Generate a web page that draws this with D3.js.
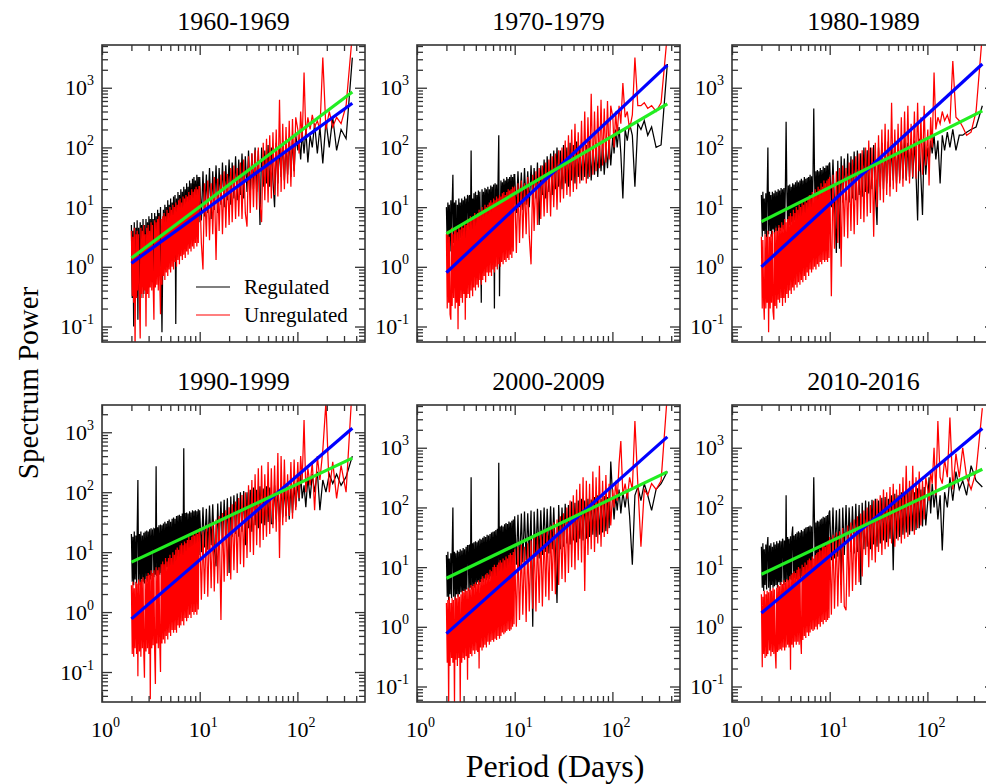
<!DOCTYPE html>
<html>
<head>
<meta charset="utf-8">
<script src="https://cdn.jsdelivr.net/npm/d3@7"></script>
<style>
  html, body { margin: 0; padding: 0; background: #fff; }
  text { font-family: "Liberation Serif", "Times New Roman", serif; fill: #000; }
</style>
</head>
<body>
<div id="chart"></div>
<script>
// period (days) of every spectrum point, shared by all panels
const periods = [
  2.00, 2.04, 2.07, 2.11, 2.14, 2.18, 2.22, 2.26, 2.29, 2.33,
  2.37, 2.42, 2.46, 2.50, 2.54, 2.59, 2.63, 2.68, 2.72, 2.77,
  2.82, 2.87, 2.92, 2.97, 3.02, 3.07, 3.12, 3.18, 3.23, 3.29,
  3.34, 3.40, 3.46, 3.52, 3.58, 3.64, 3.71, 3.77, 3.83, 3.90,
  3.97, 4.04, 4.11, 4.18, 4.25, 4.32, 4.40, 4.47, 4.55, 4.63,
  4.71, 4.79, 4.87, 4.96, 5.04, 5.13, 5.22, 5.31, 5.40, 5.50,
  5.59, 5.69, 5.79, 5.89, 5.99, 6.09, 6.20, 6.30, 6.41, 6.52,
  6.64, 6.75, 6.87, 6.99, 7.11, 7.23, 7.35, 7.48, 7.61, 7.74,
  7.88, 8.01, 8.15, 8.29, 8.44, 8.58, 8.73, 8.88, 9.03, 9.19,
  9.35, 9.51, 9.67, 9.84,
  10.0, 10.4, 10.8, 11.2, 11.7, 12.1, 12.6, 13.1, 13.6, 14.1,
  14.7, 15.3, 15.8, 16.5, 17.1, 17.8, 18.5, 19.2, 20.0, 20.8,
  21.5, 22.4, 23.3, 24.2, 25.1, 26.1, 27.1, 28.2, 29.3, 30.5,
  31.6, 32.9, 34.2, 35.5, 36.9, 38.3, 39.8, 41.4, 43.0, 44.7,
  46.4, 48.3, 50.1, 52.1, 54.1, 56.2, 58.4, 60.7, 63.1, 65.6,
  68.1, 70.8, 73.6, 76.5, 79.4, 82.5, 85.8, 89.1, 92.6, 96.2,
  101, 104, 108, 112, 117, 122, 128, 135, 142, 150,
  160, 170, 182, 196, 212, 230, 252, 280, 315, 365
];

const decades = ['1960-1969', '1970-1979', '1980-1989', '1990-1999', '2000-2009', '2010-2016'];

const reg1960 = [
  5, 0.3, 4, 0.1, 5.6, 0.4, 4.5, 0.32, 6, 0.13,
  4.5, 0.4, 5.6, 0.3, 5, 0.5, 6.3, 0.35, 5, 0.45,
  6.3, 0.4, 5.6, 0.6, 7, 0.5, 6.3, 0.7, 8, 0.55,
  6.3, 0.8, 8, 0.6, 7, 0.9, 9, 0.7, 8, 1,
  10, 0.8, 0.08, 1.1, 9, 1.3, 11, 1, 10, 1.4,
  13, 1.1, 11, 1.5, 14, 1.3, 12, 1.8, 15, 1.5,
  16, 0.11, 14, 2, 18, 1.8, 16, 2.5, 20, 2.2,
  18, 2.8, 22, 2.5, 20, 3.2, 25, 2.8, 22, 3.5,
  28, 3.2, 25, 4, 30, 3.5, 32, 4.5, 28, 5,
  35, 4.5, 32, 5.6,
  32, 6, 40, 7, 35, 8, 45, 6.3, 40, 9,
  50, 8, 45, 11, 56, 10, 50, 13, 63, 11,
  56, 14, 71, 13, 63, 16, 79, 14, 71, 18,
  89, 16, 79, 20, 100, 18, 89, 5, 100, 22,
  89, 25, 110, 22, 100, 28, 10, 120, 25, 110,
  32, 130, 28, 120, 35, 150, 32, 140, 40, 160,
  89, 140, 63, 180, 79, 200, 56, 160, 100, 250,
  79, 220, 54, 280, 100, 320, 89, 200, 140, 3200
];
const unreg1960 = [
  4, 0.32, 3.2, 0.25, 4.5, 0.04, 3.5, 0.3, 4, 0.4,
  3.5, 0.25, 0.063, 4.5, 0.35, 4, 0.3, 5, 0.4, 3.5,
  0.1, 4.5, 0.35, 5, 0.3, 4, 0.45, 5.6, 0.4, 5,
  0.5, 0.13, 6, 0.45, 5.6, 0.5, 6.3, 0.4, 7, 0.6,
  0.16, 6.3, 0.5, 7, 0.7, 8, 0.6, 7, 0.8, 9,
  0.7, 8, 0.9, 10, 0.8, 9, 1, 11, 0.9, 10,
  1.2, 12, 1, 11, 1.3, 13, 1.1, 14, 1.5, 12,
  1.3, 15, 1.6, 14, 1.4, 16, 1.8, 15, 1.6, 18,
  2, 16, 1.8, 20, 2.2, 18, 2, 20, 2.5, 22,
  2.2, 20, 2.5, 22,
  22, 2.5, 0.9, 25, 3.2, 28, 2.8, 25, 3.5, 32,
  1.3, 30, 4, 35, 3.5, 40, 4.5, 36, 5, 45,
  5.6, 50, 6.3, 45, 7, 56, 6.3, 63, 8, 4.7,
  71, 8, 80, 10, 90, 9, 100, 11, 5.6, 120,
  13, 140, 12, 160, 14, 180, 16, 200, 15, 630,
  18, 250, 20, 220, 25, 280, 22, 300, 32, 320,
  200, 79, 400, 130, 1800, 160, 320, 200, 350, 220,
  280, 200, 3200, 200, 400, 220, 320, 250, 500, 7900
];

const reg1970 = [
  10, 2, 12, 2.5, 11, 1.8, 13, 2.2, 11, 35,
  2.5, 12, 2, 13, 0.28, 11, 2.5, 14, 2.2, 12,
  3, 14, 2.5, 13, 3.2, 15, 2.8, 14, 3, 16,
  15, 3.2, 16, 2.8, 89, 3.5, 14, 3.2, 17, 3,
  18, 3.5, 16, 4, 19, 3.5, 18, 4, 0.25, 20,
  4, 18, 4.5, 21, 4, 20, 5, 22, 4.5, 20,
  5, 23, 4.5, 22, 5.6, 24, 0.2, 25, 5, 24,
  5.6, 26, 160, 0.32, 6, 28, 5.6, 26, 6.3, 30,
  6, 28, 7, 32, 6.3, 30, 8, 32, 7, 35,
  6.3, 32, 7, 35,
  35, 8, 40, 10, 38, 9, 45, 11, 40, 10,
  50, 12, 45, 14, 56, 5, 50, 16, 63, 14,
  71, 18, 79, 16, 89, 20, 100, 22, 89, 20,
  110, 25, 100, 22, 120, 28, 110, 25, 125, 32,
  100, 28, 120, 32, 110, 30, 130, 28, 100, 35,
  120, 32, 110, 40, 130, 35, 100, 45, 140, 50,
  160, 79, 200, 100, 220, 79, 14, 200, 130, 250,
  160, 22, 250, 200, 280, 160, 220, 100, 110, 2500
];
const unreg1970 = [
  3.5, 0.2, 4, 0.25, 3.2, 0.16, 0.13, 4.5, 0.22, 3.5,
  0.3, 4, 0.2, 4.5, 0.25, 3.8, 0.09, 5, 0.22, 4.2,
  0.3, 5, 0.25, 4.5, 0.35, 5.6, 0.13, 5, 0.3, 6.3,
  0.35, 5.6, 0.3, 7, 0.4, 6.3, 0.32, 7, 0.45, 8,
  0.4, 7, 0.5, 8, 0.45, 9, 0.6, 8, 0.5, 10,
  0.6, 9, 0.7, 11, 0.55, 10, 0.8, 11, 0.7, 12,
  0.8, 13, 0.7, 12, 0.9, 14, 0.8, 13, 1, 15,
  0.9, 14, 1.1, 16, 1, 15, 1.2, 17, 1.1, 18,
  1.3, 16, 1.2, 18, 1.4, 20, 1.3, 19, 1.6, 20,
  1.4, 22, 1.8, 20,
  22, 1.7, 25, 2.5, 28, 3, 25, 3.5, 32, 3.2,
  1.1, 35, 4, 40, 5, 45, 6.3, 50, 7, 56,
  8, 63, 7, 71, 10, 79, 9, 90, 12, 100,
  14, 130, 16, 160, 15, 200, 18, 250, 20, 180,
  25, 280, 28, 400, 25, 320, 32, 790, 35, 400,
  40, 500, 45, 630, 50, 450, 56, 600, 63, 500,
  320, 100, 400, 160, 500, 250, 1200, 320, 400, 200,
  350, 3200, 500, 500, 560, 450, 500, 400, 560, 7900
];

const reg1980 = [
  16, 3.2, 18, 4, 14, 3.5, 17, 3, 16, 100,
  3.5, 18, 4, 16, 3.2, 18, 4.2, 17, 3.5, 19,
  4, 18, 3.8, 20, 4.5, 19, 4, 21, 4.5, 20,
  4.2, 21, 4.5, 22, 270, 20, 4.8, 23, 5, 24,
  5, 22, 5.6, 25, 5, 24, 6, 26, 5.6, 28,
  5.6, 26, 6.3, 28, 6, 30, 6.3, 28, 7, 32,
  6.3, 30, 7, 31, 6.5, 32, 7, 35, 7.5, 33,
  7, 36, 450, 38, 7.5, 40, 8, 42, 7.5, 40,
  8.5, 45, 8, 42, 9, 48, 8.5, 45, 9, 50,
  8.5, 50, 9, 52,
  56, 10, 63, 11, 1.7, 60, 2, 71, 12, 65,
  13, 79, 12, 71, 14, 85, 13, 89, 16, 80,
  15, 100, 18, 90, 17, 100, 20, 110, 18, 5,
  100, 22, 120, 20, 110, 25, 125, 22, 110, 28,
  130, 25, 120, 28, 130, 30, 140, 28, 120, 32,
  140, 30, 130, 35, 6, 140, 32, 7.4, 130, 35,
  100, 56, 130, 79, 160, 63, 130, 25, 160, 89,
  180, 100, 200, 89, 160, 160, 180, 200, 220, 500
];
const unreg1980 = [
  3.2, 0.2, 2.8, 0.25, 0.13, 3.5, 0.2, 3.2, 0.25, 4,
  0.08, 3.2, 0.2, 3.5, 0.25, 4, 0.18, 0.13, 3.8, 0.22,
  4.5, 0.2, 4, 0.28, 5, 0.25, 4.5, 0.3, 5.6, 0.22,
  5, 0.3, 6.3, 0.25, 5.6, 0.35, 6.3, 0.3, 7, 0.4,
  8, 0.35, 7, 0.45, 9, 0.4, 8, 0.5, 10, 0.45,
  9, 0.55, 11, 0.5, 10, 0.6, 12, 0.55, 11, 0.7,
  13, 0.6, 12, 0.8, 14, 0.7, 16, 0.9, 14, 0.8,
  18, 0.9, 16, 1, 20, 0.9, 18, 1.1, 22, 1,
  20, 1.2, 25, 1.1, 22, 1.3, 28, 1.2, 25, 1.3,
  28, 1.2, 30, 1.4,
  32, 0.32, 35, 2, 40, 2.5, 45, 1, 50, 3.2,
  45, 3, 56, 4, 63, 3.5, 71, 5, 79, 6.3,
  90, 5.6, 100, 7, 130, 8, 100, 3.2, 120, 10,
  160, 13, 200, 12, 250, 16, 200, 15, 560, 20,
  200, 18, 250, 25, 320, 22, 400, 28, 500, 25,
  250, 32, 400, 30, 560, 40, 320, 35, 500, 50,
  200, 23, 320, 100, 1800, 200, 320, 250, 400, 280,
  350, 250, 2800, 320, 280, 220, 160, 180, 400, 7900
];

const reg1990 = [
  20, 3.2, 18, 2.8, 22, 3.5, 19, 3, 21, 160,
  3.2, 20, 2.8, 22, 3.5, 19, 3.2, 21, 3, 22,
  3.5, 23, 3.2, 22, 4, 24, 3.5, 25, 4, 23,
  24, 3.8, 25, 4.2, 270, 4, 26, 4.5, 28, 4.2,
  29, 4.5, 28, 5, 30, 4.5, 32, 5, 30, 5.6,
  33, 5, 35, 5.6, 32, 6, 36, 5.6, 38, 6,
  36, 6.3, 40, 5.8, 41, 6.3, 42, 6, 40, 6.5,
  44, 6.3, 540, 7, 45, 6.5, 46, 7, 44, 7.5,
  48, 7, 46, 8, 50, 7.5, 48, 8, 50, 8.5,
  48, 8, 52, 9,
  50, 10, 56, 12, 53, 11, 60, 13, 63, 12,
  5.8, 65, 14, 70, 13, 75, 16, 79, 4.5, 85,
  18, 89, 20, 95, 18, 100, 22, 105, 13, 100,
  25, 110, 22, 120, 28, 110, 25, 125, 30, 115,
  28, 125, 32, 120, 30, 30, 130, 35, 120, 32,
  130, 38, 120, 40, 135, 35, 125, 45, 140, 56,
  160, 71, 200, 79, 130, 56, 180, 79, 200, 100,
  220, 50, 160, 100, 200, 140, 200, 130, 180, 400
];
const unreg1990 = [
  2.8, 0.2, 3.2, 0.18, 2.5, 0.25, 3.2, 0.2, 3, 0.085,
  3.5, 0.22, 3.2, 0.18, 3.5, 0.25, 3.8, 0.2, 0.08, 3.5,
  0.22, 4, 0.25, 4.5, 0.2, 4.2, 0.035, 5, 0.25, 4.5,
  0.28, 5, 0.22, 0.063, 5.6, 0.3, 5, 0.25, 5.6, 0.3,
  0.1, 6.3, 0.3, 7, 0.35, 6.3, 0.3, 8, 0.4, 7,
  0.35, 8, 0.45, 9, 0.4, 8, 0.5, 10, 0.45, 9,
  0.5, 11, 0.45, 12, 0.6, 11, 0.55, 13, 0.6, 14,
  0.7, 13, 0.6, 15, 0.8, 14, 0.7, 16, 0.8, 18,
  0.9, 16, 0.8, 18, 1, 20, 0.9, 19, 1, 22,
  0.9, 20, 1.1, 22,
  25, 1.6, 22, 2, 28, 1.8, 30, 2.5, 32, 2.2,
  35, 3, 40, 0.74, 45, 3.2, 50, 4, 56, 3.5,
  63, 5, 70, 4.5, 80, 6.3, 90, 5.6, 100, 8,
  130, 10, 160, 9, 200, 13, 250, 12, 280, 16,
  200, 18, 320, 20, 250, 25, 280, 22, 450, 8,
  400, 28, 350, 32, 200, 40, 320, 36, 350, 50,
  320, 79, 400, 160, 1600, 100, 250, 130, 320, 50,
  400, 160, 500, 3200, 100, 320, 79, 280, 100, 6300
];

const reg2000 = [
  16, 3.2, 18, 2.8, 14, 3.5, 17, 3, 16, 100,
  3.2, 18, 2.8, 17, 3.5, 19, 3.2, 18, 3.5, 20,
  3.8, 19, 3.5, 21, 4, 20, 3.8, 22, 4.2, 23,
  23, 4, 24, 4.5, 320, 4.2, 25, 4.8, 26, 4.5,
  27, 5, 26, 5.6, 28, 5, 30, 5.6, 29, 6,
  31, 5.6, 33, 6.3, 32, 6, 35, 6.5, 34, 6.3,
  36, 7, 38, 6.5, 39, 7, 40, 7.5, 42, 7,
  44, 7.5, 560, 8, 48, 7.5, 50, 8, 48, 8.5,
  52, 8, 55, 9, 53, 8.5, 58, 9, 56, 9.5,
  60, 9, 63, 10,
  71, 11, 75, 10, 79, 12, 85, 13, 80, 14,
  89, 1, 85, 15, 95, 14, 90, 16, 100, 18,
  95, 17, 105, 20, 100, 18, 2.5, 110, 20, 100,
  22, 115, 25, 110, 24, 125, 28, 120, 26, 130,
  30, 140, 28, 130, 30, 140, 32, 135, 35, 150,
  32, 160, 35, 140, 38, 155, 40, 150, 45, 590,
  130, 63, 160, 89, 200, 79, 180, 100, 200, 71,
  11, 160, 220, 130, 250, 160, 89, 200, 250, 400
];
const unreg2000 = [
  2.5, 0.25, 2.8, 0.045, 3.2, 0.22, 2.5, 0.3, 3, 0.25,
  2.8, 0.05, 3.2, 0.28, 3, 0.22, 3.5, 0.3, 3.2, 0.05,
  3.5, 0.25, 4, 0.3, 3.8, 0.28, 4.2, 0.32, 4, 0.13,
  4.5, 0.3, 4.2, 0.35, 5, 0.32, 4.8, 0.4, 5.2, 0.35,
  5.6, 0.4, 5.2, 0.38, 6, 0.2, 5.6, 0.45, 6.3, 0.4,
  7, 0.45, 6.5, 0.5, 7.5, 0.45, 8, 0.56, 7.5, 0.5,
  9, 0.56, 8.5, 0.6, 10, 0.56, 11, 0.63, 10, 0.6,
  11, 0.7, 12, 0.63, 13, 0.7, 12, 0.8, 14, 0.75,
  13, 0.8, 15, 0.85, 14, 0.9, 16, 0.85, 17, 0.9,
  16, 1, 18, 1.1,
  20, 1, 22, 1.3, 24, 1.6, 22, 1.2, 25, 1.8,
  28, 2, 32, 1.8, 35, 2.5, 38, 2.2, 40, 3.2,
  45, 2.8, 50, 4, 56, 3.5, 63, 5, 71, 6.3,
  80, 5.6, 100, 8, 130, 10, 160, 9, 200, 13,
  250, 12, 320, 4, 280, 16, 250, 20, 400, 18,
  320, 25, 500, 22, 280, 32, 350, 36, 250, 50,
  200, 100, 280, 130, 540, 1300, 160, 250, 140, 320,
  200, 2800, 250, 22, 200, 160, 250, 200, 280, 7900
];

const reg2010 = [
  22, 4.5, 25, 4, 20, 5, 24, 4.2, 22, 32,
  4.5, 23, 4, 25, 5, 22, 4.5, 26, 4.8, 24,
  5, 27, 4.5, 25, 5.6, 28, 5, 27, 5.6, 30,
  27, 5, 28, 5.6, 160, 6, 32, 5.6, 30, 6.3,
  33, 6, 35, 48, 6.3, 34, 6.5, 36, 6.3, 38,
  6.5, 40, 7, 38, 6.5, 42, 7, 40, 7.5, 44,
  7, 46, 7.5, 47, 7, 48, 7.5, 50, 8, 48,
  7.5, 52, 320, 55, 8.5, 56, 8, 60, 8.5, 58,
  9, 63, 8.5, 65, 9, 70, 9.5, 68, 9, 72,
  10, 75, 9.5, 80,
  89, 13, 100, 14, 90, 15, 95, 5, 100, 16,
  110, 15, 100, 18, 105, 17, 115, 18, 110, 5,
  120, 20, 130, 22, 125, 20, 135, 24, 140, 22,
  130, 25, 145, 28, 150, 26, 140, 30, 160, 8.9,
  170, 30, 160, 32, 180, 35, 170, 38, 190, 35,
  200, 40, 180, 42, 210, 45, 200, 48, 220, 50,
  130, 320, 79, 250, 100, 200, 63, 160, 19, 180,
  100, 320, 130, 400, 200, 280, 160, 500, 280, 220
];
const unreg2010 = [
  3.5, 0.21, 3.2, 0.35, 4, 0.3, 3.5, 0.32, 4, 0.35,
  3.8, 0.4, 4.2, 0.32, 4, 0.38, 4.5, 0.35, 4.2, 0.4,
  0.2, 4.5, 0.38, 5, 0.4, 4.8, 0.42, 5.6, 0.4, 5.2,
  0.45, 6, 0.4, 5.6, 0.45, 6.3, 0.5, 6, 0.45, 7,
  0.19, 7.5, 0.5, 8, 0.45, 8.5, 0.56, 8, 0.5, 9,
  0.56, 10, 0.5, 9.5, 0.63, 0.35, 11, 0.6, 10, 0.7,
  12, 0.65, 11, 0.8, 13, 0.7, 14, 0.8, 13, 0.9,
  15, 0.85, 14, 0.9, 16, 1, 17, 0.9, 18, 1.1,
  20, 1, 19, 1.2, 22, 1.1, 24, 1.3, 22, 1.2,
  25, 1.3, 28, 1.4,
  32, 1.6, 35, 2, 38, 2.2, 40, 2.5, 45, 2.2,
  1.9, 50, 3.2, 56, 4, 63, 5, 71, 5.6, 79,
  7, 89, 16, 100, 10, 110, 13, 130, 12, 140,
  18, 160, 16, 200, 20, 180, 22, 220, 25, 250,
  22, 200, 28, 250, 25, 320, 30, 500, 32, 280,
  40, 500, 35, 320, 45, 400, 50, 280, 63, 320,
  200, 130, 400, 250, 1000, 160, 2800, 320, 250, 630,
  320, 3200, 200, 790, 320, 1000, 320, 200, 400, 4600
];

// power-law fits: value at the first and last period
const fitPeriods = [2, 365];
const blueFit = [[1.15, 550], [0.8, 2400], [1.0, 2500], [0.77, 1170], [0.77, 1520], [1.7, 2100]];
const greenFit = [[1.4, 850], [3.6, 535], [5.7, 410], [6.8, 370], [6.5, 395], [7.6, 435]];

const regulated = [reg1960, reg1970, reg1980, reg1990, reg2000, reg2010];
const unregulated = [unreg1960, unreg1970, unreg1980, unreg1990, unreg2000, unreg2010];

// ---- layout ----
const width = 986, height = 784;
const plotW = 263, plotH = 297;
const colX = [102, 417, 732];
const rowY = [45, 405];
const frameColor = '#333';

const svg = d3.select('#chart').append('svg')
  .attr('width', width)
  .attr('height', height);

const x = d3.scaleLog().domain([1, 492]).range([0, plotW]);

const xMajor = [1, 10, 100];
const xMinor = [];
xMajor.forEach(d => d3.range(2, 10).forEach(k => { if (d * k < 492) xMinor.push(d * k); }));

function yTicks(domain) {
  const major = [], minor = [];
  for (let e = -2; e <= 4; e++) {
    const d = Math.pow(10, e);
    if (d >= domain[0] && d <= domain[1]) major.push(d);
    for (let k = 2; k < 10; k++) {
      if (d * k >= domain[0] && d * k <= domain[1]) minor.push(d * k);
    }
  }
  return { major, minor };
}

function powerLabel(sel, exp) {
  sel.append('tspan').text('10');
  sel.append('tspan').attr('dy', -10).attr('font-size', 14).text(exp);
}

const line = (xs, ys) => d3.line()
  .x(d => xs(d[0]))
  .y(d => ys(d[1]));

decades.forEach((title, i) => {
  const col = i % 3, row = Math.floor(i / 3);
  const yDomain = i === 3 ? [0.0316, 2850] : [0.055, 5200];
  const y = d3.scaleLog().domain(yDomain).range([plotH, 0]);

  const g = svg.append('g')
    .attr('transform', `translate(${colX[col]},${rowY[row]})`);

  g.append('clipPath').attr('id', `clip${i}`)
    .append('rect').attr('width', plotW).attr('height', plotH);

  const plot = g.append('g').attr('clip-path', `url(#clip${i})`);
  const toPoints = arr => arr.map((v, j) => [periods[j], v]).filter(d => d[0] != null && d[1] != null);

  plot.append('path')
    .datum(toPoints(regulated[i]))
    .attr('fill', 'none').attr('stroke', '#000').attr('stroke-width', 1.25)
    .attr('d', line(x, y));

  plot.append('path')
    .datum(toPoints(unregulated[i]))
    .attr('fill', 'none').attr('stroke', '#ff0000').attr('stroke-width', 1.25)
    .attr('d', line(x, y));

  [[blueFit[i], '#0000ff'], [greenFit[i], '#22ee22']].forEach(([fit, color]) => {
    plot.append('path')
      .datum(fitPeriods.map((p, j) => [p, fit[j]]))
      .attr('fill', 'none').attr('stroke', color).attr('stroke-width', 3.2)
      .attr('d', line(x, y));
  });

  // inward ticks on all four sides
  const yt = yTicks(yDomain);
  const axes = [
    [d3.axisBottom(x), `translate(0,${plotH})`, xMajor, xMinor],
    [d3.axisTop(x), null, xMajor, xMinor],
    [d3.axisLeft(y), null, yt.major, yt.minor],
    [d3.axisRight(y), `translate(${plotW},0)`, yt.major, yt.minor]
  ];
  axes.forEach(([axis, tr, major, minor]) => {
    [[major, 10], [minor, 6]].forEach(([vals, len]) => {
      const a = g.append('g')
        .call(axis.tickValues(vals).tickSize(-len).tickFormat(''));
      if (tr) a.attr('transform', tr);
      a.select('.domain').remove();
      a.selectAll('line').attr('stroke', frameColor).attr('stroke-width', 1.3);
    });
  });

  g.append('rect')
    .attr('width', plotW).attr('height', plotH)
    .attr('fill', 'none').attr('stroke', frameColor).attr('stroke-width', 1.6);

  // y tick labels
  yt.major.forEach(v => {
    g.append('text')
      .attr('x', -8).attr('y', y(v) + 7.5)
      .attr('text-anchor', 'end').attr('font-size', 22)
      .call(powerLabel, Math.round(Math.log10(v)));
  });

  // x tick labels only on the bottom row, the "10" centred on the tick
  if (row === 1) {
    xMajor.forEach(v => {
      g.append('text')
        .attr('x', x(v) - 11).attr('y', plotH + 35)
        .attr('font-size', 22)
        .call(powerLabel, Math.round(Math.log10(v)));
    });
  }

  g.append('text')
    .attr('x', plotW / 2).attr('y', -15)
    .attr('text-anchor', 'middle').attr('font-size', 26)
    .text(title);

  if (i === 0) {
    const legend = [['Regulated', '#000'], ['Unregulated', '#ff0000']];
    legend.forEach(([name, color], k) => {
      const ly = 242 + k * 28;
      g.append('line')
        .attr('x1', 94).attr('x2', 128).attr('y1', ly).attr('y2', ly)
        .attr('stroke', color).attr('stroke-width', 1.2);
      g.append('text')
        .attr('x', 142).attr('y', ly + 7)
        .attr('font-size', 21)
        .text(name);
    });
  }
});

svg.append('text')
  .attr('transform', 'translate(38,383) rotate(-90)')
  .attr('text-anchor', 'middle').attr('font-size', 29)
  .text('Spectrum Power');

svg.append('text')
  .attr('x', 555).attr('y', 777)
  .attr('text-anchor', 'middle').attr('font-size', 32)
  .text('Period (Days)');
</script>
</body>
</html>
